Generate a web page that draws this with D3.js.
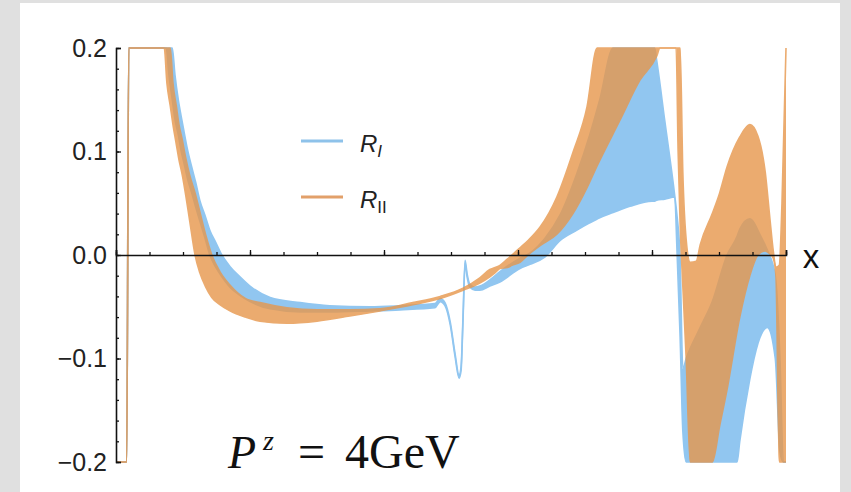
<!DOCTYPE html>
<html>
<head>
<meta charset="utf-8">
<script src="https://cdn.jsdelivr.net/npm/d3@7"></script>
<style>
  html, body { margin: 0; padding: 0; background: #e0e0e0; }
  svg { display: block; }
</style>
</head>
<body>
<svg id="chart" width="851" height="492"></svg>
<script>
// R_I band (blue): x, lower edge, upper edge
var rIx  = [0.000, 0.016, 0.019, 0.066, 0.075, 0.079, 0.084, 0.088, 0.093, 0.097, 0.101, 0.107, 0.113, 0.119, 0.125, 0.133, 0.140, 0.149, 0.158, 0.170, 0.185, 0.200, 0.230, 0.275, 0.319, 0.379, 0.424, 0.476, 0.484, 0.491, 0.499, 0.506, 0.512, 0.515, 0.518, 0.521, 0.524, 0.528, 0.536, 0.543, 0.558, 0.573, 0.603, 0.618, 0.640, 0.663, 0.688, 0.707, 0.722, 0.742, 0.767, 0.800, 0.804, 0.807, 0.819, 0.834, 0.837, 0.842, 0.846, 0.851, 0.872, 0.890, 0.912, 0.927, 0.931, 0.946, 0.949, 0.961, 0.972, 0.984, 0.991, 0.996, 1.000];
var rIlo = [-0.35, -0.35, 0.34, 0.25, 0.200, 0.174, 0.150, 0.131, 0.116, 0.101, 0.090, 0.073, 0.060, 0.046, 0.033, 0.016, 0.000, -0.012, -0.021, -0.031, -0.039, -0.045, -0.052, -0.055, -0.055, -0.054, -0.053, -0.051, -0.045, -0.049, -0.068, -0.098, -0.119, -0.112, -0.062, -0.008, -0.021, -0.031, -0.034, -0.034, -0.030, -0.026, -0.013, -0.009, -0.002, 0.014, 0.024, 0.031, 0.036, 0.041, 0.047, 0.052, 0.052, 0.053, 0.054, 0.056, 0.010, -0.08, -0.17, -0.25, -0.30, -0.30, -0.30, -0.20, -0.18, -0.12, -0.11, -0.08, -0.07, -0.10, -0.19, -0.25, -0.30];
var rIhi = [-0.34, -0.34, 0.35, 0.27, 0.25, 0.23, 0.200, 0.174, 0.150, 0.135, 0.121, 0.101, 0.085, 0.070, 0.053, 0.038, 0.024, 0.012, 0.000, -0.011, -0.021, -0.030, -0.041, -0.046, -0.049, -0.050, -0.049, -0.047, -0.042, -0.046, -0.065, -0.095, -0.116, -0.108, -0.058, -0.005, -0.018, -0.028, -0.031, -0.030, -0.024, -0.016, -0.003, 0.002, 0.016, 0.039, 0.079, 0.116, 0.150, 0.200, 0.26, 0.26, 0.22, 0.188, 0.130, 0.057, 0.040, -0.005, -0.11, -0.10, -0.070, -0.045, 0.000, 0.018, 0.025, 0.035, 0.034, 0.020, 0.005, -0.020, -0.10, -0.20, -0.30];

// R_II band (orange)
var rIIx  = [0.000, 0.016, 0.019, 0.066, 0.072, 0.076, 0.081, 0.085, 0.090, 0.094, 0.099, 0.104, 0.110, 0.118, 0.125, 0.134, 0.143, 0.155, 0.170, 0.193, 0.215, 0.255, 0.300, 0.349, 0.394, 0.443, 0.484, 0.518, 0.543, 0.558, 0.566, 0.573, 0.584, 0.591, 0.603, 0.615, 0.633, 0.658, 0.682, 0.703, 0.718, 0.752, 0.782, 0.807, 0.812, 0.827, 0.836, 0.839, 0.842, 0.846, 0.851, 0.857, 0.866, 0.872, 0.890, 0.901, 0.912, 0.931, 0.946, 0.958, 0.969, 0.976, 0.981, 0.985, 0.990, 0.994, 1.000];
var rIIlo = [-0.35, -0.35, 0.34, 0.23, 0.200, 0.166, 0.144, 0.126, 0.107, 0.092, 0.077, 0.058, 0.033, 0.000, -0.017, -0.031, -0.041, -0.048, -0.054, -0.060, -0.064, -0.066, -0.064, -0.059, -0.054, -0.048, -0.042, -0.034, -0.027, -0.021, -0.017, -0.013, -0.012, -0.010, -0.007, 0.000, 0.009, 0.020, 0.040, 0.065, 0.086, 0.130, 0.169, 0.192, 0.205, 0.24, 0.22, 0.10, 0.03, -0.03, -0.10, -0.23, -0.30, -0.30, -0.20, -0.165, -0.13, -0.06, -0.02, 0.000, 0.004, 0.001, -0.003, -0.02, -0.20, -0.35, -0.35];
var rIIhi = [-0.34, -0.34, 0.35, 0.26, 0.24, 0.235, 0.200, 0.166, 0.144, 0.126, 0.111, 0.094, 0.077, 0.060, 0.042, 0.019, 0.000, -0.016, -0.029, -0.042, -0.046, -0.051, -0.053, -0.053, -0.052, -0.046, -0.040, -0.032, -0.022, -0.014, -0.012, -0.010, -0.004, 0.000, 0.007, 0.014, 0.027, 0.056, 0.099, 0.143, 0.200, 0.30, 0.32, 0.32, 0.32, 0.32, 0.32, 0.30, 0.20, 0.08, 0.015, -0.007, -0.006, 0.010, 0.040, 0.060, 0.085, 0.114, 0.126, 0.115, 0.080, 0.035, 0.004, -0.012, -0.010, 0.05, 0.35];

var yTicks = [-0.2, -0.1, 0.0, 0.1, 0.2];
var yMinor = d3.range(-0.2, 0.2001, 0.02);
var xMajor = [0, 0.2, 0.4, 0.6, 0.8, 1.0];
var xMinor = d3.range(0, 1.0001, 0.05);

var blue = "#91c6f0", orange = "#e7974c";

var svg = d3.select("#chart");
svg.append("rect").attr("x", 20).attr("y", 3).attr("width", 820).attr("height", 489).attr("fill", "white");

var x = d3.scaleLinear().domain([0, 1]).range([116, 786]);
var y = d3.scaleLinear().domain([-0.2, 0.2]).range([462, 48]);

function clamp(v) { return Math.max(-0.2, Math.min(0.2, v)); }

function rows(xs, lo, hi) {
    return xs.map(function (d, i) { return {x: d, lo: lo[i], hi: hi[i]}; });
}

var area = d3.area().curve(d3.curveMonotoneX)
    .x(function (d) { return x(d.x); })
    .y0(function (d) { return y(clamp(d.lo)); })
    .y1(function (d) { return y(clamp(d.hi)); });

function edge(key) {
    return d3.line().curve(d3.curveMonotoneX)
        .x(function (d) { return x(d.x); })
        .y(function (d) { return y(clamp(d[key])); });
}

function band(data, color, opacity) {
    var g = svg.append("g").attr("opacity", opacity);
    g.append("path").datum(data).attr("d", area).attr("fill", color);
    ["lo", "hi"].forEach(function (k) {
        g.append("path").datum(data).attr("d", edge(k))
            .attr("fill", "none").attr("stroke", color).attr("stroke-width", 1.6);
    });
}

band(rows(rIx, rIlo, rIhi), blue, 1);
band(rows(rIIx, rIIlo, rIIhi), orange, 0.8);

// axes
var font = "'Liberation Sans', Arial, sans-serif";

var yAxis = svg.append("g").attr("transform", "translate(116,0)")
    .call(d3.axisLeft(y).tickValues(yTicks).tickFormat(d3.format(".1f"))
        .tickSizeInner(-5).tickSizeOuter(-5).tickPadding(9));
svg.append("g").attr("transform", "translate(116,0)")
    .call(d3.axisLeft(y).tickValues(yMinor).tickFormat("").tickSizeInner(-3).tickSizeOuter(0))
    .select(".domain").remove();

var xAxis = svg.append("g").attr("transform", "translate(0," + y(0) + ")")
    .call(d3.axisBottom(x).tickValues(xMajor).tickFormat("").tickSizeInner(-5).tickSizeOuter(-5));
svg.append("g").attr("transform", "translate(0," + y(0) + ")")
    .call(d3.axisBottom(x).tickValues(xMinor).tickFormat("").tickSizeInner(-3).tickSizeOuter(0))
    .select(".domain").remove();

svg.selectAll(".domain").attr("stroke", "#111").attr("stroke-width", 1.6);
svg.selectAll(".tick line").attr("stroke", "#111").attr("stroke-width", 1.3);
yAxis.selectAll("text").attr("font-family", font).attr("font-size", 25).attr("fill", "#222");

svg.append("text").attr("x", 811).attr("y", 268).attr("text-anchor", "middle")
    .attr("font-family", font).attr("font-size", 33).attr("fill", "#111").text("x");

// legend
var legend = [{c: "#8ec2ea", sub: "I", it: "italic", y: 141}, {c: "#e2a06a", sub: "II", it: "normal", y: 197}];
legend.forEach(function (d) {
    svg.append("line").attr("x1", 301).attr("x2", 343).attr("y1", d.y).attr("y2", d.y)
        .attr("stroke", d.c).attr("stroke-width", 3);
    var t = svg.append("text").attr("x", 360).attr("y", d.y + 11)
        .attr("font-family", font).attr("font-size", 24).attr("fill", "#222");
    t.append("tspan").attr("font-style", "italic").text("R");
    t.append("tspan").attr("dy", 5).attr("font-size", 17).attr("font-style", d.it).text(d.sub);
});

// P^z = 4GeV
var serif = "'Liberation Serif', 'DejaVu Serif', serif";
svg.append("text").attr("x", 228).attr("y", 468).attr("font-family", serif)
    .attr("font-size", 46).attr("font-style", "italic").attr("fill", "#111").text("P");
svg.append("text").attr("x", 263).attr("y", 450).attr("font-family", serif)
    .attr("font-size", 28).attr("font-style", "italic").attr("fill", "#111").text("z");
svg.append("text").attr("x", 298).attr("y", 468).attr("font-family", serif)
    .attr("font-size", 48).attr("fill", "#111").text("=");
svg.append("text").attr("x", 345).attr("y", 468).attr("font-family", serif)
    .attr("font-size", 48).attr("fill", "#111").text("4GeV");
</script>
</body>
</html>
